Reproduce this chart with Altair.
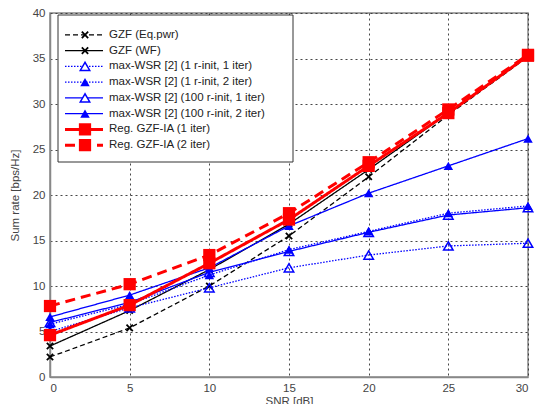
import altair as alt
import pandas as pd

snr = [0, 5, 10, 15, 20, 25, 30]
gzf_eq = [2.2, 5.4, 10.0, 15.5, 22.0, 28.8, 35.2]
gzf_wf = [3.4, 7.3, 11.8, 16.8, 22.8, 29.0, 35.3]
wsr_1r_1i = [5.0, 7.6, 9.8, 12.0, 13.4, 14.4, 14.7]
wsr_1r_2i = [5.8, 8.0, 11.2, 14.0, 16.0, 18.0, 18.8]
wsr_100r_1i = [6.0, 8.2, 11.5, 13.8, 15.9, 17.8, 18.6]
wsr_100r_2i = [6.6, 9.0, 12.0, 16.6, 20.2, 23.2, 26.2]
reg_1 = [4.6, 7.9, 12.5, 17.3, 23.2, 29.0, 35.3]
reg_2 = [7.8, 10.2, 13.4, 18.0, 23.6, 29.4, 35.4]

names = [
    "GZF (Eq.pwr)",
    "GZF (WF)",
    "max-WSR [2] (1 r-init, 1 iter)",
    "max-WSR [2]  (1 r-init, 2 iter)",
    "max-WSR [2]  (100 r-init, 1 iter)",
    "max-WSR [2]  (100 r-init, 2 iter)",
    "Reg. GZF-IA (1 iter)",
    "Reg. GZF-IA (2 iter)",
]
values = [gzf_eq, gzf_wf, wsr_1r_1i, wsr_1r_2i, wsr_100r_1i, wsr_100r_2i, reg_1, reg_2]

XPATH = "M-1,-1L1,1M-1,1L1,-1"

# style per series: color, dash, width, shape, filled, size
styles = [
    ("#000000", [5, 3], 1.3, "x", True, 40),
    ("#000000", [1, 0], 1.3, "x", True, 40),
    ("#0000ff", [1.5, 1.5], 1.3, "triangle-up", False, 90),
    ("#0000ff", [1.5, 1.5], 1.3, "triangle-up", True, 90),
    ("#0000ff", [1, 0], 1.3, "triangle-up", False, 90),
    ("#0000ff", [1, 0], 1.3, "triangle-up", True, 90),
    ("#ff0000", [1, 0], 3.0, "square", True, 150),
    ("#ff0000", [10, 6], 3.0, "square", True, 150),
]


def point_mark(chart, col, shp, filled, sz, legend=False):
    if shp == "x":
        return chart.mark_point(shape=XPATH, color=col, filled=False, size=sz, strokeWidth=1.8, opacity=1)
    if filled:
        return chart.mark_point(shape=shp, color=col, filled=True, size=sz, opacity=1)
    if legend:
        return chart.mark_point(shape=shp, color=col, filled=False, size=sz, strokeWidth=1.5, opacity=1, fill="white")
    return chart.mark_point(shape=shp, color=col, filled=False, size=sz, strokeWidth=1.5, opacity=1)


xs = alt.X("snr:Q", scale=alt.Scale(domain=[0, 30], nice=False),
           axis=alt.Axis(values=snr, title="SNR [dB]", grid=True))
ys = alt.Y("rate:Q", scale=alt.Scale(domain=[0, 40], nice=False),
           axis=alt.Axis(values=[0, 5, 10, 15, 20, 25, 30, 35, 40], title="Sum rate [bps/Hz]", grid=True))

layers = []
for name, vals, (col, dash, w, shp, filled, sz) in zip(names, values, styles):
    df = pd.DataFrame({"snr": snr, "rate": vals, "series": name})
    base = alt.Chart(df)
    layers.append(base.mark_line(color=col, strokeDash=dash, strokeWidth=w).encode(x=xs, y=ys))
    layers.append(point_mark(base, col, shp, filled, sz).encode(x=xs, y=ys))

main = alt.layer(*layers)

# legend
leg_box = alt.Chart(pd.DataFrame({"a": [0]})).mark_rect(fill="white", stroke="#333", strokeWidth=1).encode(
    x=alt.value(8), x2=alt.value(243), y=alt.value(2), y2=alt.value(149))

ly = alt.Y("series:N", scale=alt.Scale(type="point", domain=names, range=[14, 140]), axis=None)
leg_layers = [leg_box]
for name, (col, dash, w, shp, filled, sz) in zip(names, styles):
    d = pd.DataFrame({"series": [name]})
    b = alt.Chart(d)
    leg_layers.append(b.mark_rule(color=col, strokeDash=dash, strokeWidth=w).encode(
        x=alt.value(15), x2=alt.value(53), y=ly))
    leg_layers.append(point_mark(b, col, shp, filled, sz, legend=True).encode(x=alt.value(35), y=ly))
    leg_layers.append(b.mark_text(align="left", baseline="middle", fontSize=11.5, font="Liberation Sans",
                                  color="#222").encode(x=alt.value(59), y=ly, text="series:N"))

legend = alt.layer(*leg_layers)

chart = alt.layer(main, legend).resolve_scale(y="independent").properties(
    width=478, height=364,
    autosize=alt.AutoSizeParams(type="none"),
    padding={"left": 50, "top": 13, "right": 9, "bottom": 27},
).configure_view(stroke="#888", strokeWidth=1.5).configure_axis(
    gridColor="#333", gridDash=[2, 3], gridOpacity=0.9, gridWidth=1,
    domainColor="#888", domainWidth=1.5, ticks=False,
    labelFont="Liberation Sans", labelFontSize=11.5, labelColor="#444", labelPadding=5,
    titleFont="Liberation Sans", titleFontSize=11.5, titleColor="#444", titleFontWeight="normal",
).configure_axisY(titlePadding=12).configure_axisX(titlePadding=2)

chart.save("out.html", embed_options={"renderer": "svg", "actions": False})
